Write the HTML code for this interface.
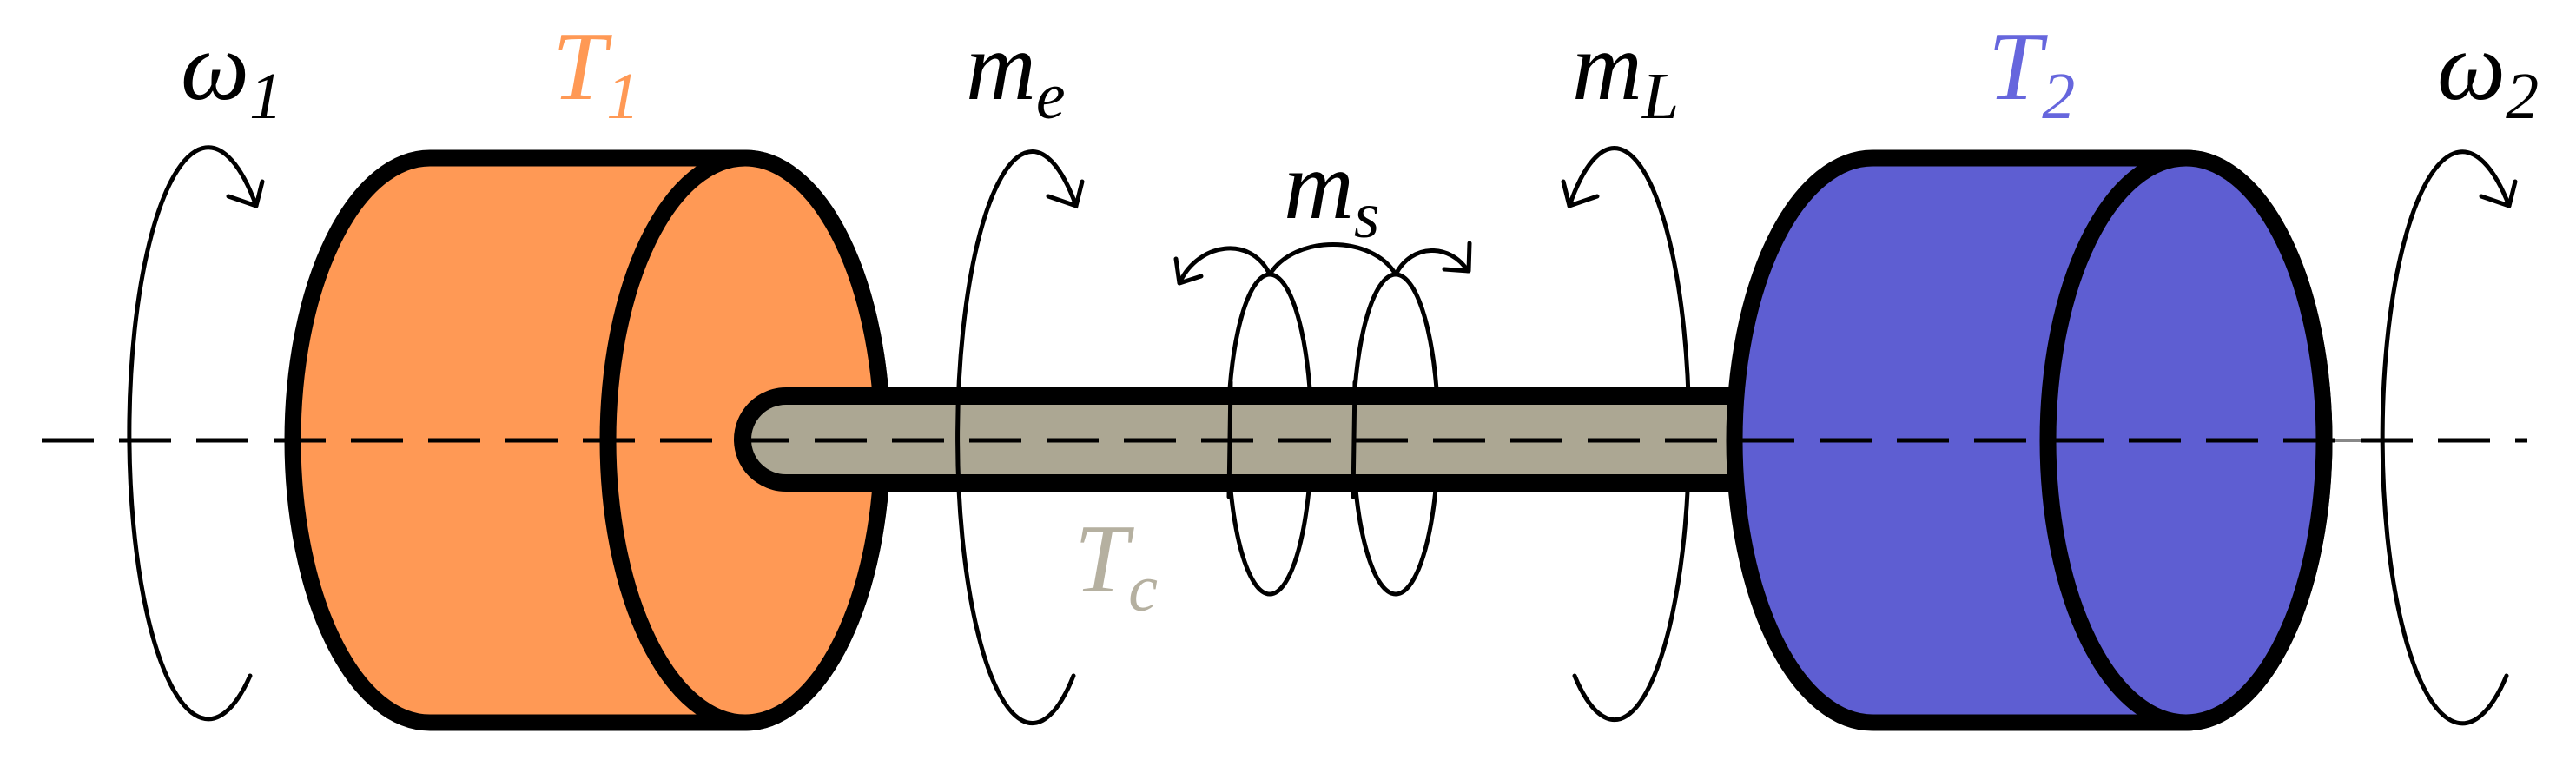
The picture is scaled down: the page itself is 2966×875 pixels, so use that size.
<!DOCTYPE html>
<html><head><meta charset="utf-8"><style>html,body{margin:0;padding:0;background:#fff}svg{display:block}
.t{font-family:"Liberation Serif","DejaVu Serif",serif;font-style:italic;font-size:112px}</style></head>
<body>
<svg width="2966" height="875" viewBox="0 0 2966 875" xmlns="http://www.w3.org/2000/svg">
<g class="t">
<text x="208" y="114" fill="#000">ω<tspan font-size="76" dy="22">1</tspan></text>
<text x="636" y="114" fill="#ff9955">T<tspan font-size="76" dy="22">1</tspan></text>
<text x="1112" y="114" fill="#000">m<tspan font-size="76" dy="22">e</tspan></text>
<text x="1810" y="114" fill="#000">m<tspan font-size="76" dy="22">L</tspan></text>
<text x="2289" y="114" fill="#6666dd">T<tspan font-size="76" dy="22">2</tspan></text>
<text x="2806" y="114" fill="#000">ω<tspan font-size="76" dy="22">2</tspan></text>
<text x="1478" y="251" fill="#000">m<tspan font-size="76" dy="22">s</tspan></text>
<text x="1237" y="681" fill="#b5b0a0">T<tspan font-size="76" dy="22">c</tspan></text>
</g>
<g fill="none" stroke="#000" stroke-width="5" stroke-linecap="round" stroke-linejoin="round">
<path d="M295 237 A91 329 0 1 0 288 778"/>
<path d="M263 226 L295 237 L302 209"/>
<path d="M1807 237 A86 329 0 1 1 1813 778"/>
<path d="M1839 226 L1807 237 L1800 209"/>
<path d="M2889 237 A92 329 0 1 0 2886 778"/>
<path d="M2857 226 L2889 237 L2896 209"/>
<ellipse cx="1462" cy="500" rx="48" ry="184"/>
<ellipse cx="1607" cy="500" rx="49" ry="184"/>
<path d="M1359 324 C1380 280 1440 270 1462 316"/>
<path d="M1462 316 C1490 270 1580 270 1607 316"/>
<path d="M1607 316 C1625 280 1670 280 1690 312"/>
<path d="M1383 318 L1358 326 L1354 298"/>
<path d="M1663 310 L1691 312 L1692 280"/>
</g>
<g stroke="#000" stroke-width="19" fill="#ff9955">
<path d="M495 182 L858 182 A158 325 0 0 1 858 832 L495 832 A158 325 0 0 1 495 182 Z"/>
<ellipse cx="858" cy="507" rx="158" ry="325"/>
</g>
<path d="M2000 456 L905 456 A50 50 0 0 0 905 556 L2000 556 Z" fill="#aca793" stroke="#000" stroke-width="20"/>
<g stroke="#000" stroke-width="19" fill="#5e5ed2">
<path d="M2156 182 L2517 182 A159 325 0 0 1 2517 832 L2156 832 A159 325 0 0 1 2156 182 Z"/>
<ellipse cx="2517" cy="507" rx="159" ry="325"/>
</g>
<g fill="none" stroke="#000" stroke-width="5" stroke-linecap="round">
<path d="M1239 237 A86 329 0 1 0 1236 778"/>
<path d="M1207 226 L1239 237 L1246 209"/>
<path d="M1417 440 L1415 572"/>
<path d="M1560 440 L1558 572"/>
</g>
<line x1="2685" y1="507" x2="2746" y2="507" stroke="#888" stroke-width="4"/>
<line x1="48" y1="507" x2="2910" y2="507" stroke="#000" stroke-width="5" stroke-dasharray="60 29"/>
</svg>
</body></html>
